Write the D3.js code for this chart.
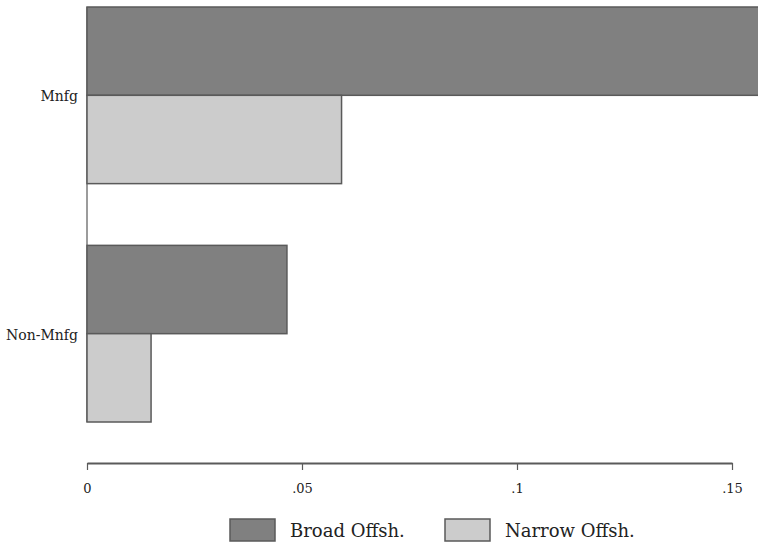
<!DOCTYPE html>
<html>
<head>
<meta charset="utf-8">
<script src="https://cdn.jsdelivr.net/npm/d3@7"></script>
<style>
  html, body { margin: 0; padding: 0; background: #fff; }
  svg { display: block; }
</style>
</head>
<body>
<svg id="chart" width="758" height="545"></svg>
<script>
const categories = ["Mnfg", "Non-Mnfg"];
const seriesNames = ["Broad Offsh.", "Narrow Offsh."];
const broadValues = [0.162, 0.0465];
const narrowValues = [0.0592, 0.0149];
const tickValues = [0, 0.05, 0.1, 0.15];
const tickLabels = ["0", ".05", ".1", ".15"];

const FONT = "DejaVu Serif";
const colors = { "Broad Offsh.": "#808080", "Narrow Offsh.": "#cccccc" };
const strokeColor = "#5a5a5a";

const svg = d3.select("#chart").attr("font-family", FONT);

const x = d3.scaleLinear().domain([0, 0.15]).range([87, 732]);
const y = d3.scaleBand().domain(categories).range([7, 422]).paddingInner(0.259).paddingOuter(0);
const ySub = d3.scaleBand().domain(seriesNames).range([0, y.bandwidth()]).padding(0);

const data = categories.map((c, i) => ({
  category: c,
  values: [
    { series: seriesNames[0], value: broadValues[i] },
    { series: seriesNames[1], value: narrowValues[i] }
  ]
}));

svg.append("line")
  .attr("x1", x(0)).attr("x2", x(0))
  .attr("y1", y.range()[0]).attr("y2", y.range()[1])
  .attr("stroke", strokeColor).attr("stroke-width", 1.2);

const groups = svg.selectAll("g.cat").data(data).enter().append("g")
  .attr("class", "cat")
  .attr("transform", d => `translate(0,${y(d.category)})`);

groups.selectAll("rect").data(d => d.values).enter().append("rect")
  .attr("x", x(0))
  .attr("y", d => ySub(d.series))
  .attr("width", d => x(d.value) - x(0))
  .attr("height", ySub.bandwidth())
  .attr("fill", d => colors[d.series])
  .attr("stroke", strokeColor)
  .attr("stroke-width", 1.5);

svg.selectAll("text.cat").data(categories).enter().append("text")
  .attr("class", "cat")
  .attr("x", 78)
  .attr("y", d => y(d) + y.bandwidth() / 2 + 6)
  .attr("text-anchor", "end")
  .attr("font-family", FONT)
  .attr("font-size", "14px")
  .attr("fill", "#222")
  .text(d => d);

const xAxis = d3.axisBottom(x)
  .tickValues(tickValues)
  .tickFormat((d, i) => tickLabels[i])
  .tickSize(7)
  .tickPadding(14)
  .tickSizeOuter(0);

const ax = svg.append("g").attr("transform", "translate(0,463)").call(xAxis)
  .attr("font-family", FONT);
ax.select(".domain").attr("stroke", strokeColor).attr("stroke-width", 2);
ax.selectAll(".tick line").attr("stroke", strokeColor).attr("stroke-width", 1.2);
ax.selectAll(".tick text")
  .attr("font-size", "13px")
  .attr("font-family", FONT)
  .attr("fill", "#222");

const legendItems = [
  { name: seriesNames[0], bx: 230, tx: 290 },
  { name: seriesNames[1], bx: 445, tx: 505 }
];
const lg = svg.selectAll("g.legend").data(legendItems).enter().append("g").attr("class", "legend");
lg.append("rect")
  .attr("x", d => d.bx).attr("y", 519)
  .attr("width", 45).attr("height", 22)
  .attr("fill", d => colors[d.name])
  .attr("stroke", strokeColor).attr("stroke-width", 1.5);
lg.append("text")
  .attr("x", d => d.tx).attr("y", 537)
  .attr("font-family", FONT)
  .attr("font-size", "18px")
  .attr("fill", "#222")
  .text(d => d.name);
</script>
</body>
</html>
